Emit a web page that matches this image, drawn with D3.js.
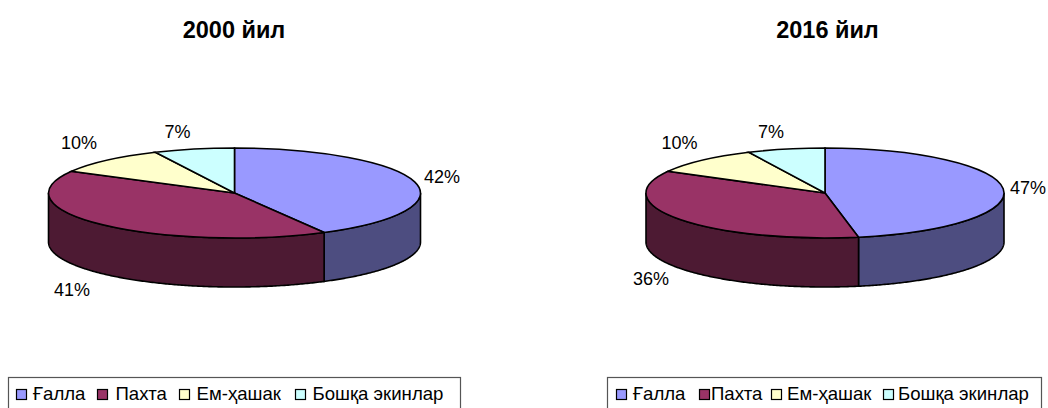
<!DOCTYPE html>
<html>
<head>
<meta charset="utf-8">
<script src="https://d3js.org/d3.v7.min.js"></script>
<style>
  html, body { margin: 0; padding: 0; background: #fff; overflow: hidden; }
  text { font-family: "Liberation Sans", Arial, sans-serif; fill: #000; }
</style>
</head>
<body>
<div class="vis"></div>
<script>
  let width = 1048
  let height = 408

  let categories = ['Ғалла', 'Пахта', 'Ем-ҳашак', 'Бошқа экинлар']
  let values2000 = [42, 41, 10, 7]
  let values2016 = [47, 36, 10, 7]
  let topColors = ['#9999ff', '#993366', '#ffffcc', '#ccffff']
  let sideColors = ['#4d4d80', '#4d1a33', '#808066', '#668080']

  let svg = d3.select('.vis').append('svg')
    .attr('width', width)
    .attr('height', height)
    .attr('viewBox', [0, 0, width, height])
    .style('display', 'block')

  let pie = d3.pie().sort(null).value((d) => d)

  function drawPie(cfg) {
    let g = svg.append('g')

    g.append('text')
      .attr('x', cfg.titleX)
      .attr('y', 38)
      .attr('text-anchor', 'middle')
      .attr('font-size', 23.5)
      .attr('font-weight', 'bold')
      .text(cfg.title)

    let arcs = pie(cfg.values)
    let px = (a) => cfg.cx + cfg.rx * Math.sin(a)
    let py = (a) => cfg.cy - cfg.ry * Math.cos(a)

    // side wall, only the front half of the disc shows
    arcs.forEach((d, i) => {
      let a0 = Math.max(d.startAngle, Math.PI / 2)
      let a1 = Math.min(d.endAngle, Math.PI * 1.5)
      if (a1 <= a0) return
      let angles = d3.range(a0, a1, 0.01).concat([a1])
      let front = angles.map((a) => [px(a), py(a)])
      let back = angles.slice().reverse().map((a) => [px(a), py(a) + cfg.depth])
      g.append('path')
        .attr('d', d3.line()(front.concat(back)) + 'Z')
        .attr('fill', sideColors[i])
        .attr('stroke', '#000')
        .attr('stroke-width', 1.6)
    })

    // top of the disc is a flat pie squashed on y
    let arc = d3.arc().innerRadius(0).outerRadius(cfg.rx)
    g.append('g')
      .attr('transform', `translate(${cfg.cx},${cfg.cy}) scale(1,${cfg.ry / cfg.rx})`)
      .selectAll('path')
      .data(arcs)
      .join('path')
      .attr('d', arc)
      .attr('fill', (d, i) => topColors[i])
      .attr('stroke', '#000')
      .attr('stroke-width', 1.6)
      .attr('vector-effect', 'non-scaling-stroke')

    g.selectAll('.pct')
      .data(cfg.values)
      .join('text')
      .attr('class', 'pct')
      .attr('x', (d, i) => cfg.labelX[i])
      .attr('y', (d, i) => cfg.labelY[i])
      .attr('text-anchor', 'middle')
      .attr('font-size', 18)
      .text((d) => d + '%')

    // legend
    let lg = g.append('g')
    lg.append('rect')
      .attr('x', cfg.legend.x + 0.5)
      .attr('y', 377.5)
      .attr('width', cfg.legend.w)
      .attr('height', 40)
      .attr('fill', '#fff')
      .attr('stroke', '#555')
      .attr('stroke-width', 1.2)

    categories.forEach((c, i) => {
      lg.append('rect')
        .attr('x', cfg.legend.swatch[i] + 0.5)
        .attr('y', 389.5)
        .attr('width', 10)
        .attr('height', 10)
        .attr('fill', topColors[i])
        .attr('stroke', '#000')
        .attr('stroke-width', 1.2)
      lg.append('text')
        .attr('x', cfg.legend.text[i])
        .attr('y', 400)
        .attr('font-size', 18.6)
        .text(c)
    })
  }

  drawPie({
    title: '2000 йил', titleX: 234, values: values2000,
    cx: 234.5, cy: 193, rx: 186, ry: 45, depth: 49,
    labelX: [442, 72, 79, 177.5], labelY: [183, 296, 149, 138],
    legend: { x: 8, w: 452, swatch: [16, 97, 179, 295], text: [33, 115.5, 196.5, 312.5] }
  })

  drawPie({
    title: '2016 йил', titleX: 827.5, values: values2016,
    cx: 825, cy: 193, rx: 179, ry: 45, depth: 49,
    labelX: [1028, 651, 679.5, 771], labelY: [194, 285, 149, 138],
    legend: { x: 607, w: 434, swatch: [616, 699, 771, 883], text: [633, 711, 787, 898] }
  })
</script>
</body>
</html>
